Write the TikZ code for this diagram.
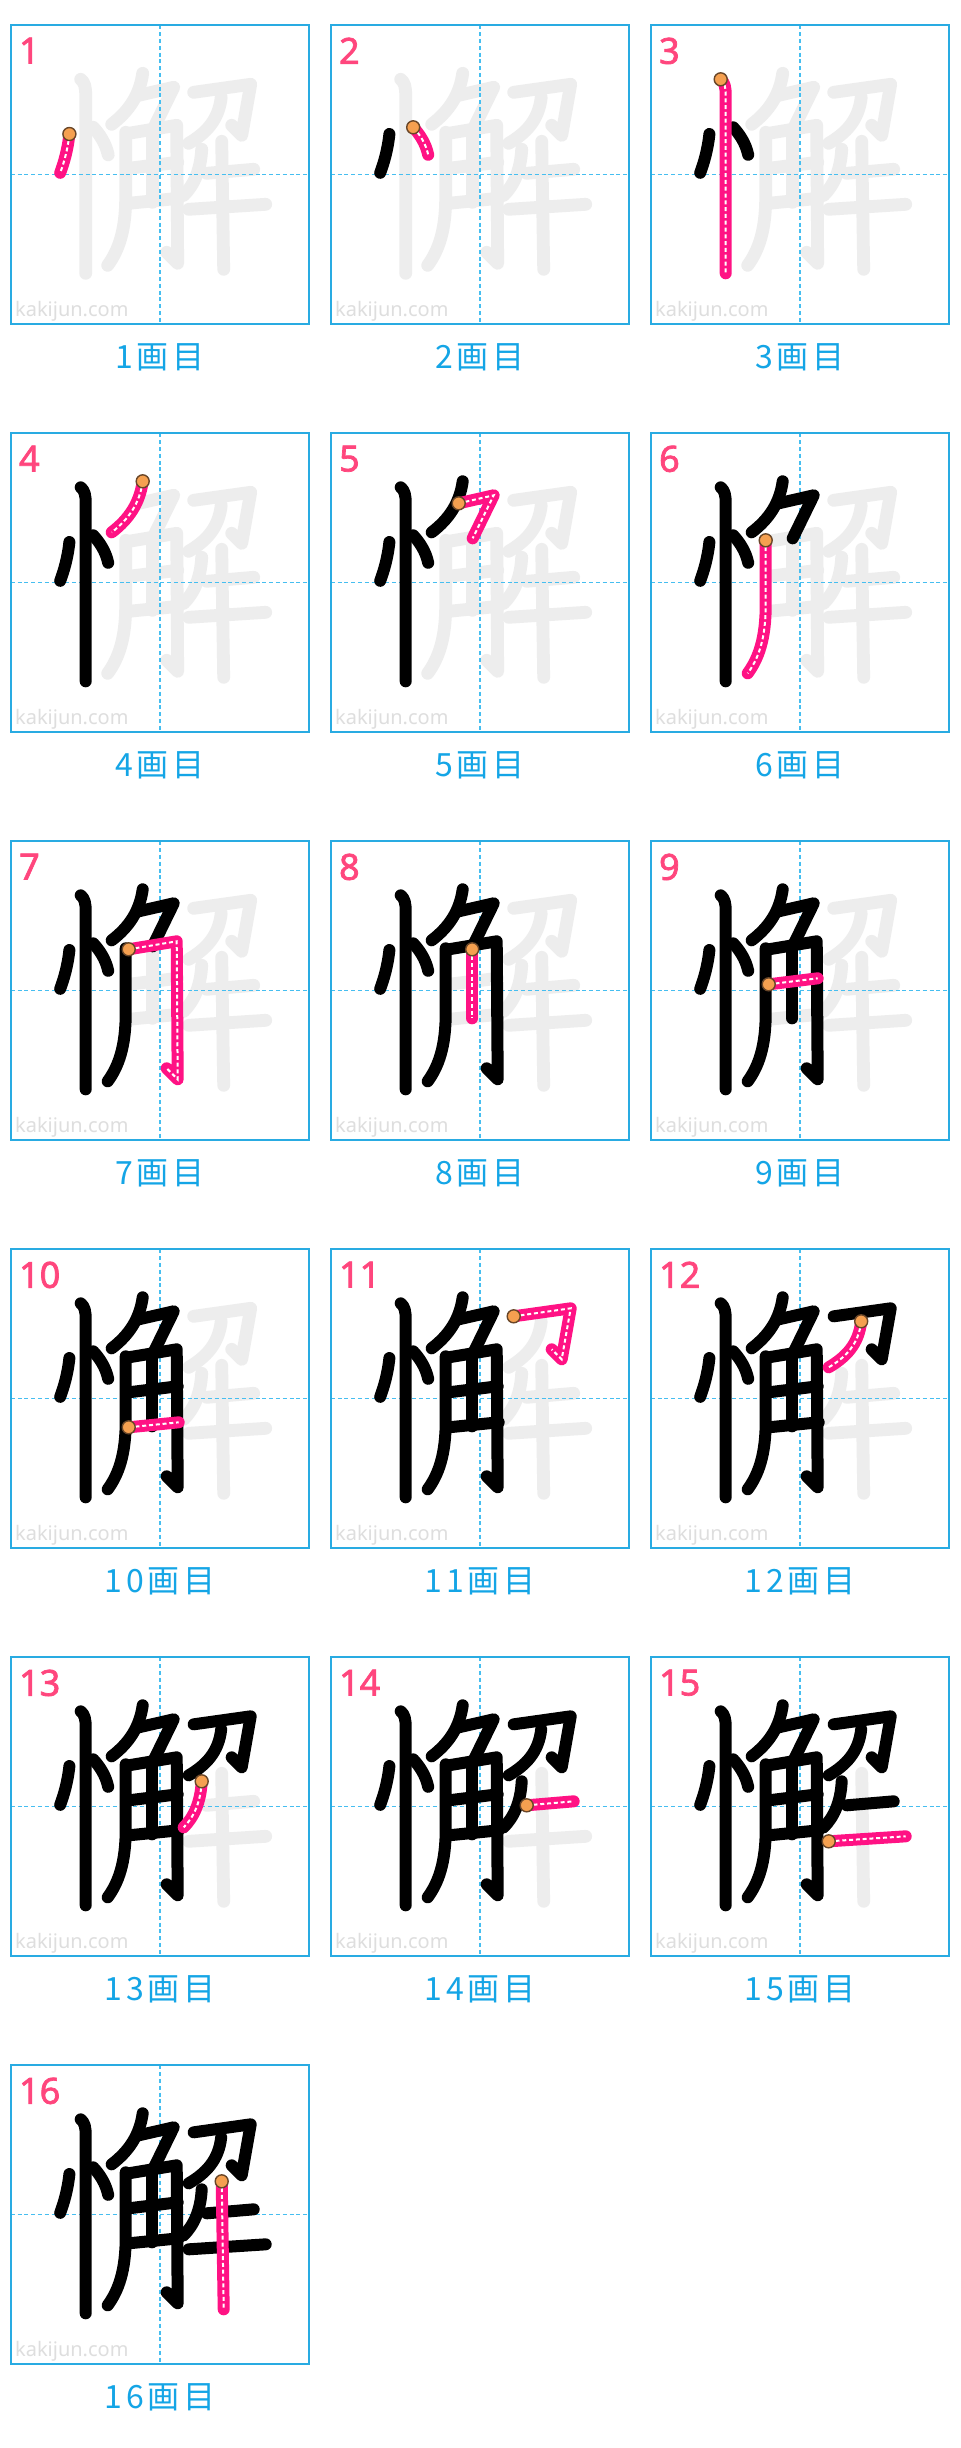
\documentclass[tikz,border=0pt]{standalone}
\usepackage{fontspec}
\setmainfont{Noto Sans}
\newfontfamily\numfont[FakeBold=2]{Noto Sans}
\newfontfamily\jpfont[LetterSpace=12]{Noto Sans CJK JP}

\definecolor{kblue}{RGB}{41,171,226}
\definecolor{kguide}{RGB}{70,190,240}
\definecolor{kghost}{RGB}{237,237,237}
\definecolor{kpink}{RGB}{255,18,132}
\definecolor{knum}{RGB}{255,70,125}
\definecolor{korange}{RGB}{245,160,80}
\definecolor{kbrown}{RGB}{105,70,40}
\definecolor{kmark}{RGB}{222,222,222}
\definecolor{kcap}{RGB}{20,165,230}

% strokes of the kanji, in px of a 298 x 298 cell, y going down
\newcommand\kstroke[3]{%
  \expandafter\def\csname ks#1\endcsname{#2}%
  \expandafter\def\csname kr#1\endcsname{#3}}
\kstroke{1}{58.7,108.7}{.. controls (57,125) and (53,138) .. (49.5,147.5)}
\kstroke{2}{82.5,102}{.. controls (89,109) and (95,118) .. (97.5,129.5)}
\kstroke{3}{70,54}{.. controls (74,57) and (75,62) .. (75,70) -- (75,248)}
\kstroke{4}{132,48}{.. controls (129,70) and (118,86) .. (101,99)}
\kstroke{5}{128,70}{-- (163,62) -- (142,105)}
\kstroke{6}{115,107}{-- (115,172) .. controls (115,205) and (108,225) .. (97,240)}
\kstroke{7}{118,108}{-- (166,100) -- (167,238) -- (156,227)}
\kstroke{8}{141.5,108}{-- (141.5,177)}
\kstroke{9}{118,143}{-- (167,137)}
\kstroke{10}{118,178}{-- (168,173)}
\kstroke{11}{183,67}{-- (240,59) -- (231,110) -- (221,100)}
\kstroke{12}{210.5,72}{.. controls (208,95) and (195,108) .. (178,118)}
\kstroke{13}{191,124}{.. controls (190,145) and (183,160) .. (173,170)}
\kstroke{14}{196,148}{-- (243,144)}
\kstroke{15}{178,184}{-- (255,179)}
\kstroke{16}{211,116}{-- (213,244)}

\begin{document}
\begin{tikzpicture}[
    x=0.5pt, y=-0.5pt,
    frame/.style={draw=kblue, line width=0.9pt},
    guide/.style={draw=kguide, line width=0.7pt, dash pattern=on 2pt off 1.4pt},
    ghost/.style={draw=kghost, line width=6.4pt, line cap=round, line join=round},
    done/.style={draw=black, line width=6pt, line cap=round, line join=round},
    now/.style={draw=kpink, line width=6pt, line cap=round, line join=round},
    nowdots/.style={draw=white, line width=1pt, dash pattern=on 2pt off 1.4pt},
    startdot/.style={fill=korange, draw=kbrown, line width=0.7pt},
    numlbl/.style={anchor=north west, inner sep=0pt, text=knum, font=\numfont\fontsize{18}{18}\selectfont},
    wmark/.style={anchor=west, inner sep=0pt, text=kmark, font=\fontsize{10}{10}\selectfont},
    caplbl/.style={inner sep=0pt, text=kcap, font=\jpfont\fontsize{16}{16}\selectfont}
  ]
  \fill[white] (0,0) rectangle (960,2448);
  \useasboundingbox (0,0) rectangle (960,2448);
  \foreach \n in {1,...,16}{
    \pgfmathtruncatemacro\col{mod(\n-1,3)}
    \pgfmathtruncatemacro\row{(\n-1)/3}
    \begin{scope}[shift={(10.7+320*\col,25.3+408*\row)}]
      % strokes still to come
      \foreach \k in {1,...,16}{
        \expandafter\let\expandafter\kst\csname ks\k\endcsname
        \expandafter\let\expandafter\krs\csname kr\k\endcsname
        \ifnum\k>\n \draw[ghost] (\kst) \krs; \fi
      }
      \draw[guide] (149.3,0) -- (149.3,298.6);
      \draw[guide] (0,149.3) -- (298.6,149.3);
      % strokes written so far, then the current one
      \foreach \k in {1,...,16}{
        \expandafter\let\expandafter\kst\csname ks\k\endcsname
        \expandafter\let\expandafter\krs\csname kr\k\endcsname
        \ifnum\k<\n \draw[done] (\kst) \krs; \fi
        \ifnum\k=\n
          \draw[now] (\kst) \krs;
          \draw[nowdots] (\kst) \krs;
          \filldraw[startdot] (\kst) circle (6.5);
        \fi
      }
      \draw[frame] (0,0) rectangle (298.6,298.6);
      \node[numlbl] (num\n) at (8,12) {\n};
      \node[wmark] (site\n) at (4,286) {kakijun.com};
      \node[caplbl] (cap\n) at (149.3,332) {{\n}画目};
    \end{scope}
  }
\end{tikzpicture}
\end{document}
